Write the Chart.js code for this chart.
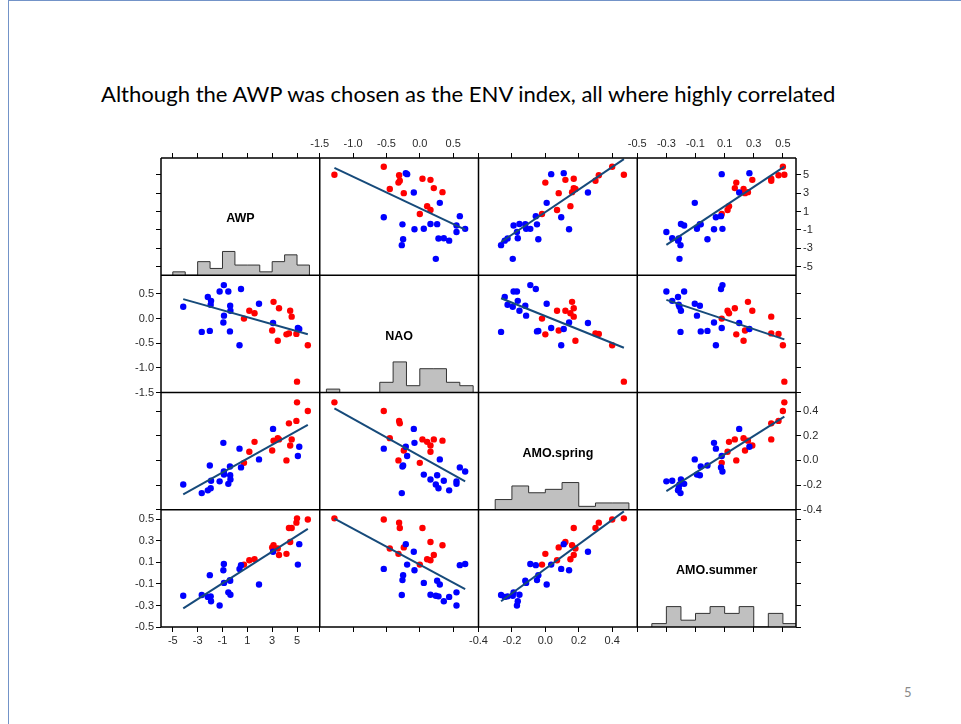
<!DOCTYPE html>
<html>
<head>
<meta charset="utf-8">
<script src="https://cdn.jsdelivr.net/npm/chart.js@4.4.1/dist/chart.umd.min.js"></script>
<style>
  html, body { margin: 0; padding: 0; background: #fff; }
  body { width: 961px; height: 724px; position: relative; overflow: hidden; }
  #frame { position: absolute; left: 8px; top: 0; width: 970px; height: 740px; border-left: 1px solid #7393c8; border-top: 1px solid #7393c8; }
  #title { position: absolute; left: 101px; top: 83px; white-space: nowrap; font-family: Lato, "Open Sans", sans-serif; font-size: 20px; line-height: 1; color: #000; }
  #pageNum { position: absolute; left: 904px; top: 686px; font-family: Lato, sans-serif; font-size: 13px; line-height: 1; color: #8a8a8a; }
  #wrap { position: absolute; left: 121px; top: 128px; width: 715px; height: 529px; }
</style>
</head>
<body>
<div id="frame"></div>
<div id="title">Although the AWP was chosen as the ENV index, all where highly correlated</div>
<div id="wrap"><canvas id="splom" width="715" height="529"></canvas></div>
<div id="pageNum">5</div>
<script>
const varNames = ['AWP', 'NAO', 'AMO.spring', 'AMO.summer'];

// 1 = red years, 0 = blue years
const group = [1, 1, 1, 1, 1, 1, 1, 1, 1, 1, 1, 1, 1, 1,
  0, 0, 0, 0, 0, 0, 0, 0, 0, 0, 0, 0, 0, 0, 0, 0, 0, 0, 0, 0];
const awp = [5.87, 5.00, 4.95, 4.57, 4.45, 4.35, 4.15, 3.55, 3.45, 3.11, 3.00, 1.58, 1.16, 0.73,
  5.18, 5.07, 3.07, 1.94, 0.49, 0.37, -0.36, -0.40, -0.38, -0.53, -0.88, -0.89, -0.93, -1.23, -1.95, -1.92, -2.02, -2.18, -2.67, -4.16];
const nao = [-0.54, -1.28, -0.31, 0.04, 0.16, -0.30, -0.32, 0.21, -0.45, 0.34, -0.24, 0.11, 0.16, 0.00,
  -0.21, -0.19, -0.09, 0.30, 0.60, -0.54, 0.16, -0.26, 0.26, 0.55, 0.06, 0.68, -0.08, 0.55, 0.28, 0.36, -0.25, 0.44, -0.27, 0.24];
const amoSpring = [0.40, 0.47, 0.32, 0.17, 0.12, 0.30, 0.00, 0.17, 0.18, 0.16, 0.08, 0.15, 0.07, -0.02,
  0.11, 0.035, 0.255, 0.008, -0.057, 0.095, -0.155, -0.05, -0.12, -0.19, -0.115, -0.09, 0.142, -0.17, -0.226, -0.165, -0.042, -0.243, -0.265, -0.195];
const amoSummer = [0.50, 0.51, 0.47, 0.42, 0.29, 0.42, 0.18, 0.17, 0.23, 0.26, 0.24, 0.13, 0.12, 0.08,
  0.27, 0.08, 0.20, -0.105, 0.075, 0.04, -0.20, -0.064, -0.07, -0.178, -0.09, 0.085, 0.027, -0.30, -0.215, -0.26, -0.018, -0.22, -0.203, -0.21];

// histograms on the diagonal: bin edges and counts
const awpEdges = [-5, -4, -3, -2, -1, 0, 1, 2, 3, 4, 5, 6];
const awpCounts = [1, 0, 4, 2, 7, 3, 3, 1, 4, 6, 3];
const naoEdges = [-1.4, -1.2, -1.0, -0.8, -0.6, -0.4, -0.2, 0.0, 0.2, 0.4, 0.6, 0.8];
const naoCounts = [1, 0, 0, 0, 3, 9, 2, 7, 7, 3, 2];
const springEdges = [-0.3, -0.2, -0.1, 0.0, 0.1, 0.2, 0.3, 0.4, 0.5];
const springCounts = [3, 7, 5, 6, 8, 1, 2, 2];
const summerEdges = [-0.4, -0.3, -0.2, -0.1, 0.0, 0.1, 0.2, 0.3, 0.4, 0.5, 0.6];
const summerCounts = [1, 6, 2, 4, 6, 4, 6, 0, 4, 1];

// axis ranges and tick labels
const awpRange = [-5.95, 6.83];
const naoRange = [-1.5, 0.88];
const springRange = [-0.4, 0.55];
const summerRange = [-0.5, 0.59];
const awpTicks = [-5, -3, -1, 1, 3, 5];
const naoTicks = [-1.5, -1.0, -0.5, 0.0, 0.5];
const springTicks = [-0.4, -0.2, 0.0, 0.2, 0.4];
const summerTicks = [-0.5, -0.3, -0.1, 0.1, 0.3, 0.5];

const vars = [awp, nao, amoSpring, amoSummer];
const ranges = [awpRange, naoRange, springRange, summerRange];
const tickSets = [awpTicks, naoTicks, springTicks, summerTicks];
const hists = [[awpEdges, awpCounts], [naoEdges, naoCounts], [springEdges, springCounts], [summerEdges, summerCounts]];
const histMax = 34.5;

const pointColors = group.map(g => g ? '#ff0000' : '#0000ff');

function fitLine(xs, ys) {
  const n = xs.length;
  const mx = xs.reduce((a, b) => a + b, 0) / n;
  const my = ys.reduce((a, b) => a + b, 0) / n;
  let sxy = 0, sxx = 0;
  for (let k = 0; k < n; k++) {
    sxy += (xs[k] - mx) * (ys[k] - my);
    sxx += (xs[k] - mx) * (xs[k] - mx);
  }
  const b = sxy / sxx;
  const a = my - b * mx;
  const x0 = Math.min(...xs), x1 = Math.max(...xs);
  return [{x: x0, y: a + b * x0}, {x: x1, y: a + b * x1}];
}

function histSteps(edges, counts) {
  const pts = [{x: edges[0], y: 0}];
  counts.forEach((c, i) => pts.push({x: edges[i], y: c}));
  pts.push({x: edges[edges.length - 1], y: counts[counts.length - 1]});
  pts.push({x: edges[edges.length - 1], y: 0});
  return pts;
}

function axis(i, position, stack, weight, showLabels) {
  return {
    type: 'linear',
    position: position,
    stack: stack,
    stackWeight: 1,
    weight: weight,
    min: ranges[i][0],
    max: ranges[i][1],
    afterBuildTicks: s => { s.ticks = tickSets[i].map(v => ({value: v})); },
    afterFit: s => { if (s.isHorizontal()) s.height = 30; else s.width = 40; },
    grid: {display: true, drawOnChartArea: false, drawTicks: true, tickLength: 5, color: '#000', lineWidth: 1},
    border: {display: false},
    ticks: {
      display: showLabels,
      autoSkip: false,
      maxRotation: 0,
      padding: 2,
      color: '#2a2a2a',
      font: {family: 'Liberation Sans', size: 11},
      callback: v => i === 0 ? String(Math.round(v)) : Number(v).toFixed(1)
    }
  };
}

const scales = {};
for (let i = 0; i < 4; i++) {
  scales['xb' + i] = axis(i, 'bottom', 'xb', i + 1, i % 2 === 0);
  scales['xt' + i] = axis(i, 'top', 'xt', 4 - i, i % 2 === 1);
  scales['yl' + i] = axis(i, 'left', 'yl', 4 - i, i % 2 === 1);
  scales['yr' + i] = axis(i, 'right', 'yr', i + 1, i % 2 === 0);
  scales['yh' + i] = {type: 'linear', position: 'right', stack: 'yh', stackWeight: 1, weight: 11 + i, display: false, min: 0, max: histMax};
}

const datasets = [];
for (let r = 0; r < 4; r++) {
  for (let c = 0; c < 4; c++) {
    if (r === c) {
      datasets.push({
        type: 'line',
        xAxisID: 'xb' + c,
        yAxisID: 'yh' + r,
        data: histSteps(hists[c][0], hists[c][1]),
        stepped: true,
        fill: 'origin',
        backgroundColor: '#c0c0c0',
        borderColor: '#333',
        borderWidth: 1,
        pointRadius: 0,
        order: 3
      });
      continue;
    }
    datasets.push({
      type: 'scatter',
      xAxisID: 'xb' + c,
      yAxisID: 'yl' + r,
      data: vars[c].map((x, k) => ({x: x, y: vars[r][k]})),
      pointBackgroundColor: pointColors,
      pointBorderWidth: 0,
      pointRadius: 3.2,
      order: 2
    });
    datasets.push({
      type: 'line',
      xAxisID: 'xb' + c,
      yAxisID: 'yl' + r,
      data: fitLine(vars[c], vars[r]),
      borderColor: '#164a7a',
      borderWidth: 2,
      pointRadius: 0,
      fill: false,
      order: 1
    });
  }
}

const panelPlugin = {
  id: 'panels',
  afterDatasetsDraw(chart) {
    const ctx = chart.ctx;
    const a = chart.chartArea;
    ctx.save();
    ctx.strokeStyle = '#000';
    ctx.lineWidth = 1.5;
    ctx.beginPath();
    for (let c = 0; c < 4; c++) {
      const s = chart.scales['xb' + c];
      ctx.moveTo(s.left, a.top);
      ctx.lineTo(s.left, a.bottom);
    }
    ctx.moveTo(a.right, a.top);
    ctx.lineTo(a.right, a.bottom);
    for (let r = 0; r < 4; r++) {
      const s = chart.scales['yl' + r];
      ctx.moveTo(a.left, s.top);
      ctx.lineTo(a.right, s.top);
    }
    ctx.moveTo(a.left, a.bottom);
    ctx.lineTo(a.right, a.bottom);
    ctx.stroke();

    ctx.font = 'bold 12.5px "Liberation Sans"';
    ctx.fillStyle = '#000';
    ctx.textAlign = 'center';
    ctx.textBaseline = 'middle';
    for (let i = 0; i < 4; i++) {
      const sx = chart.scales['xb' + i];
      const sy = chart.scales['yl' + i];
      ctx.fillText(varNames[i], (sx.left + sx.right) / 2, sy.top + 0.52 * (sy.bottom - sy.top));
    }
    ctx.restore();
  }
};

new Chart(document.getElementById('splom'), {
  type: 'scatter',
  data: {datasets: datasets},
  options: {
    responsive: false,
    animation: false,
    events: [],
    layout: {padding: 0},
    scales: scales,
    plugins: {legend: {display: false}, tooltip: {enabled: false}}
  },
  plugins: [panelPlugin]
});

// stretch the title to the width it has on the slide
const title = document.getElementById('title');
const w = title.getBoundingClientRect().width;
title.style.fontSize = (20 * 735 / w) + 'px';
</script>
</body>
</html>
